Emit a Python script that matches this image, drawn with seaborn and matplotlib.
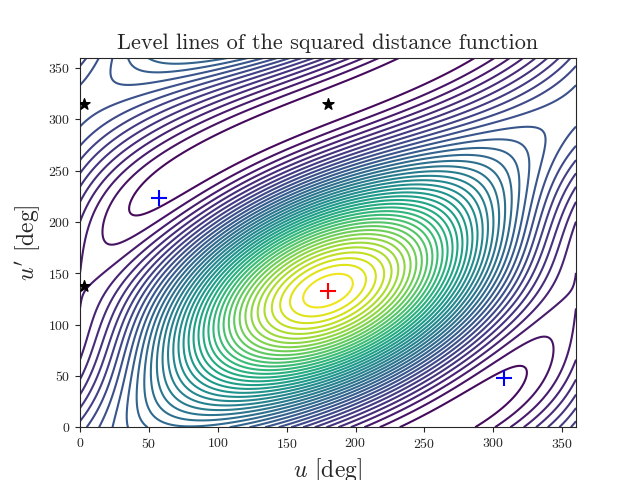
import numpy as np
import matplotlib
matplotlib.use("Agg")
import matplotlib.pyplot as plt
import seaborn as sns

sns.set_style("ticks")
plt.rcParams.update({"font.family": "cmr10", "mathtext.fontset": "cm",
                     "axes.formatter.use_mathtext": True, "axes.unicode_minus": False})

# orbital elements: a1, e1, a2, e2, mutual inclination, argument of pericentre
params = (1.0, 0.15, 1.2, 0.45, 30.0, 180.0)
n_levels = 50

# critical points [deg]
max_u, max_v = [180], [133]
min_u, min_v = [57, 308], [223, 48]
sad_u, sad_v = [3, 180, 3], [315, 315, 138]


def d2(U, V, p):
    a1, e1, a2, e2, inc, om = p
    x1, y1 = a1*(np.cos(U) - e1), a1*np.sqrt(1-e1**2)*np.sin(U)
    px = a2*(np.cos(V) - e2); py = a2*np.sqrt(1-e2**2)*np.sin(V)
    w, I = np.radians(om), np.radians(inc)
    xp = px*np.cos(w) - py*np.sin(w); yp = px*np.sin(w) + py*np.cos(w)
    return (x1-xp)**2 + (y1-yp*np.cos(I))**2 + (yp*np.sin(I))**2


g = np.radians(np.linspace(0, 360, 361))
U, V = np.meshgrid(g, g)
base = d2(U, V, params)
j, i = np.unravel_index(np.argmax(base), base.shape)
du, dv = g[i] - np.radians(max_u[0]), g[j] - np.radians(max_v[0])
D2 = d2(U + du, V + dv, params)

fig, ax = plt.subplots(figsize=(6.4, 4.8), dpi=100)
ax.contour(np.degrees(U), np.degrees(V), D2, levels=n_levels, cmap="viridis")
ax.scatter(max_u, max_v, marker="+", color="red", s=120, zorder=5)
ax.scatter(min_u, min_v, marker="+", color="blue", s=120, zorder=5)
ax.scatter(sad_u, sad_v, marker="*", color="black", s=70, zorder=5)
ax.set_xlim(0, 360); ax.set_ylim(0, 360)
ax.set_title("Level lines of the squared distance function", fontsize=16)
ax.set_xlabel(r"$u$ [deg]", fontsize=17)
ax.set_ylabel(r"$u'$ [deg]", fontsize=17)
fig.subplots_adjust(bottom=0.11)
fig.savefig("out.png")
